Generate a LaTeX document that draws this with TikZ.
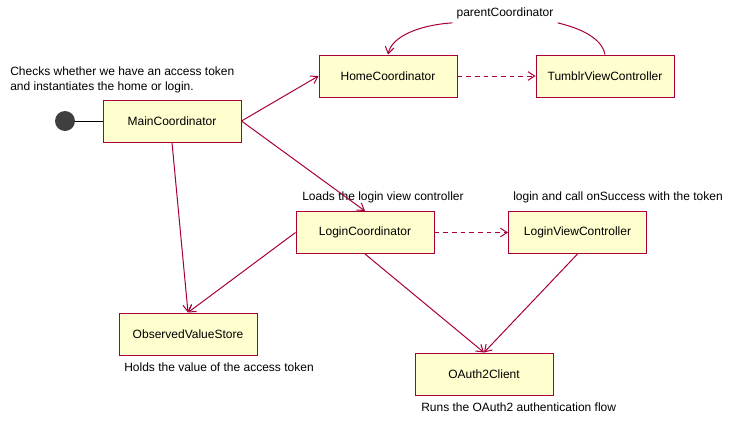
\documentclass[tikz,border=0pt]{standalone}
\usepackage{fontspec}
\setmainfont{Liberation Sans}
\usetikzlibrary{arrows.meta}
\definecolor{bordeaux}{HTML}{A80036}
\definecolor{jaunepale}{HTML}{FEFECE}
\definecolor{grisfonce}{HTML}{3F3F3F}
\begin{document}
\begin{tikzpicture}[x=0.75pt,y=-0.75pt]
% Styles
\tikzstyle{classe}=[draw=bordeaux,fill=jaunepale,line width=0.75pt,minimum width=103.5pt,minimum height=31.5pt,font=\fontsize{9}{11}\selectfont]
\tikzstyle{note}=[anchor=west,inner sep=0pt,align=left,font=\fontsize{9}{11}\selectfont]
\tikzstyle{lien}=[draw=bordeaux,line width=0.75pt]
\tikzstyle{fleche}=[lien,-{Straight Barb[length=5pt,width=6.5pt]}]
\tikzstyle{pointille}=[fleche,dash pattern=on 3.5pt off 3pt]
% Cadre
\useasboundingbox (0,0) rectangle (736,425);
% Noeuds
\node[circle,fill=grisfonce,minimum size=15pt,inner sep=0pt] (Depart) at (65,121) {};
\node[classe] (Main) at (172,121) {MainCoordinator};
\node[classe] (Home) at (388,76) {HomeCoordinator};
\node[classe] (Tumblr) at (605,76) {TumblrViewController};
\node[classe] (Login) at (365,232.5) {LoginCoordinator};
\node[classe] (LoginVC) at (577.5,232.5) {LoginViewController};
\node[classe] (Store) at (188,334) {ObservedValueStore};
\node[classe] (Client) at (484,374) {OAuth2Client};
% Notes
\node[note] (noteMain) at (10,80) {Checks whether we have an access token\\and instantiates the home or login.};
\node[note] (noteLogin) at (302,197) {Loads the login view controller};
\node[note] (noteLoginVC) at (513,197) {login and call onSuccess with the token};
\node[note] (noteStore) at (124,367) {Holds the value of the access token};
\node[note] (noteClient) at (421,407) {Runs the OAuth2 authentication flow};
\node[inner sep=3pt,font=\fontsize{9}{11}\selectfont] (parent) at (505,13) {parentCoordinator};
% Arcs
\draw[line width=0.75pt] (Depart)--(Main.west);
\draw[fleche] (Main.east)--(Home.west);
\draw[fleche] (Main.east)--(Login.north);
\draw[fleche] (Main.south)--(Store.north);
\draw[fleche] (Login.west)--(Store.north);
\draw[fleche] (Login.south)--(Client.north);
\draw[fleche] (LoginVC.south)--(Client.north);
\draw[pointille] (Home.east)--(Tumblr.west);
\draw[pointille] (Login.east)--(LoginVC.west);
\draw[lien] (Tumblr.north) .. controls (603,42) and (588,30) .. (parent.south east);
\draw[fleche] (parent.south west) .. controls (420,25) and (392,36) .. (Home.north);
\end{tikzpicture}
\end{document}
